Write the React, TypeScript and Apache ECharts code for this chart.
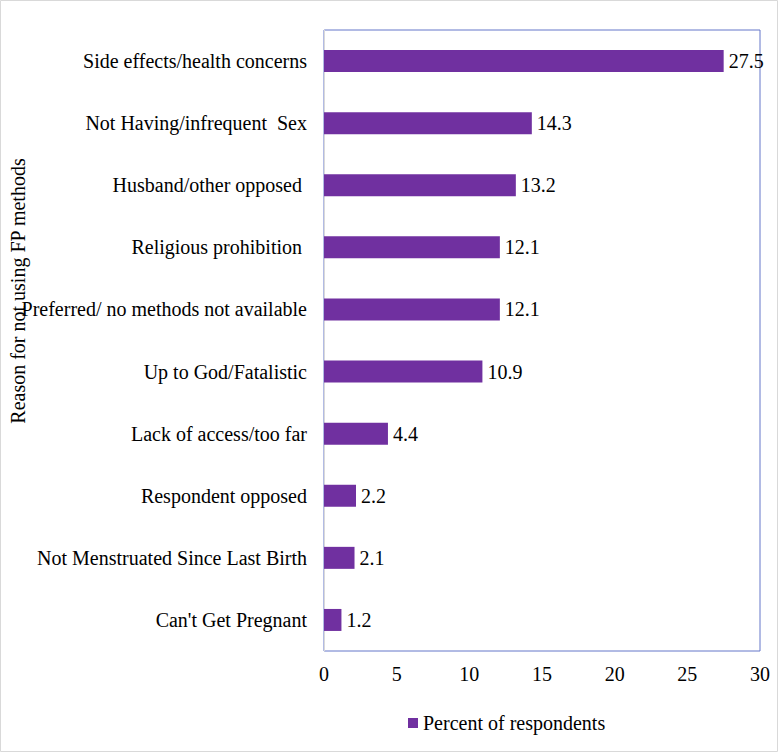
import React, { useEffect, useRef } from "react";
import * as echarts from "echarts";

const categories = [
  "Side effects/health concerns",
  "Not Having/infrequent  Sex",
  "Husband/other opposed ",
  "Religious prohibition ",
  "Preferred/ no methods not available",
  "Up to God/Fatalistic",
  "Lack of access/too far",
  "Respondent opposed",
  "Not Menstruated Since Last Birth",
  "Can't Get Pregnant",
];
const percentValues = [27.5, 14.3, 13.2, 12.1, 12.1, 10.9, 4.4, 2.2, 2.1, 1.2];
const seriesName = "Percent of respondents";
const yAxisTitle = "Reason for not using FP methods";

const FONT = "'Liberation Serif', 'Times New Roman', serif";

export default function App() {
  const ref = useRef<HTMLDivElement>(null);
  useEffect(() => {
    if (!ref.current) return;
    const chart = echarts.init(ref.current, undefined, { renderer: "svg" });
    chart.setOption({
      animation: false,
      backgroundColor: "#ffffff",
      textStyle: { fontFamily: FONT },
      grid: {
        left: 324,
        right: 21,
        top: 30,
        bottom: 102,
        containLabel: false,
        show: true,
        borderColor: "#6577c9",
        borderWidth: 1,
        backgroundColor: "transparent",
      },
      legend: {
        data: [seriesName],
        left: 403,
        top: 708,
        icon: "rect",
        itemWidth: 10,
        itemHeight: 10,
        textStyle: { fontSize: 20, color: "#000", fontFamily: FONT },
      },
      xAxis: {
        type: "value",
        min: 0,
        max: 30,
        interval: 5,
        axisLine: { show: false },
        axisTick: { show: false },
        splitLine: { show: false },
        axisLabel: { fontSize: 20, color: "#000", fontFamily: FONT, margin: 13 },
      },
      yAxis: {
        type: "category",
        inverse: true,
        data: categories,
        axisLine: { show: true, lineStyle: { color: "#d9d9d9", width: 1 } },
        axisTick: { show: false },
        axisLabel: { fontSize: 20, color: "#000", fontFamily: FONT, margin: 17 },
      },
      series: [
        {
          name: seriesName,
          type: "bar",
          data: percentValues,
          barWidth: 22,
          itemStyle: { color: "#7030a0" },
          label: {
            show: true,
            position: "right",
            distance: 5,
            fontSize: 20,
            color: "#000",
            fontFamily: FONT,
          },
        },
      ],
      graphic: [
        {
          type: "rect",
          shape: { x: 0.5, y: 0.5, width: 777, height: 751 },
          style: { fill: "none", stroke: "#d9d9d9", lineWidth: 1 },
          silent: true,
        },
        {
          type: "text",
          x: 18,
          y: 291,
          rotation: Math.PI / 2,
          style: {
            text: yAxisTitle,
            fontSize: 20,
            fontFamily: FONT,
            fill: "#000",
            textAlign: "center",
            textVerticalAlign: "middle",
          },
        },
      ],
    });
    return () => chart.dispose();
  }, []);
  return (
    <div
      ref={ref}
      style={{ position: "fixed", left: 0, top: 0, width: 781, height: 753 }}
    />
  );
}
